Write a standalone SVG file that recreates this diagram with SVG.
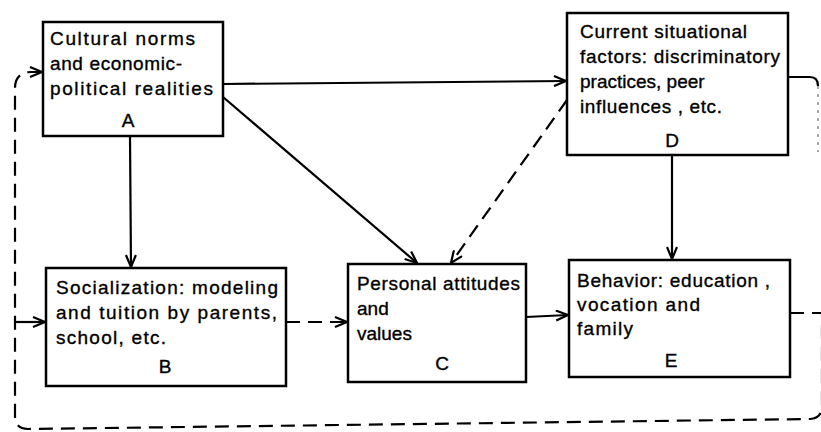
<svg xmlns="http://www.w3.org/2000/svg" width="821" height="432" viewBox="0 0 821 432">
<style>
.box{fill:#fff;stroke:#000;stroke-width:2.5}
.t{font-family:"Liberation Sans","DejaVu Sans",sans-serif;font-size:19px;fill:#000;stroke:#000;stroke-width:0.35}
.lbl{text-anchor:middle}
.c{fill:none;stroke:#000;stroke-width:2.2}
.d{stroke-dasharray:14 8}
.f{stroke-width:1;stroke-dasharray:3 5;stroke:#555}
</style>
<defs>
<marker id="ah" viewBox="0 0 14 12" refX="13" refY="6" markerWidth="14" markerHeight="12" markerUnits="userSpaceOnUse" orient="auto">
<path d="M1,1 L13,6 L1,11" fill="none" stroke="#000" stroke-width="2.2" stroke-dasharray="none"/>
</marker>
</defs>
<rect width="821" height="432" fill="#fff"/>
<g id="connectors">
<line class="c" x1="223" y1="84" x2="566" y2="81" marker-end="url(#ah)"/>
<line class="c" x1="223" y1="97" x2="417" y2="263" marker-end="url(#ah)"/>
<line class="c d" x1="567" y1="100" x2="451" y2="263" marker-end="url(#ah)"/>
<line class="c" x1="130" y1="136" x2="131" y2="267" marker-end="url(#ah)"/>
<line class="c" x1="672" y1="155" x2="672" y2="259" marker-end="url(#ah)"/>
<line class="c d" x1="286" y1="322" x2="347" y2="322" marker-end="url(#ah)"/>
<line class="c" x1="526" y1="317" x2="568" y2="315" marker-end="url(#ah)"/>
<path class="c d" d="M790,313 H822 V406 Q822,418 810,419 L28,429 Q15,429 15,416 V88 Q15,73 30,72 L42,72" marker-end="url(#ah)"/>
<line class="c" x1="15" y1="322" x2="45" y2="322" marker-end="url(#ah)"/>
<path class="c" d="M788,77 H810 Q818,77 818,86"/>
<path class="c f" d="M818,86 V152"/>
</g>
<g id="nodeA">
<rect class="box" x="43" y="22" width="180" height="114"/>
<text class="t" x="50" y="45" textLength="145" lengthAdjust="spacing">Cultural norms</text>
<text class="t" x="50" y="70" textLength="132" lengthAdjust="spacing">and economic-</text>
<text class="t" x="50" y="95" textLength="163" lengthAdjust="spacing">political realities</text>
<text class="t lbl" x="128" y="127">A</text>
</g>
<g id="nodeD">
<rect class="box" x="567" y="13" width="221" height="142"/>
<text class="t" x="580" y="38" textLength="167" lengthAdjust="spacing">Current situational</text>
<text class="t" x="580" y="63" textLength="200" lengthAdjust="spacing">factors: discriminatory</text>
<text class="t" x="580" y="88">practices, peer</text>
<text class="t" x="580" y="113" textLength="142" lengthAdjust="spacing">influences , etc.</text>
<text class="t lbl" x="672" y="147">D</text>
</g>
<g id="nodeB">
<rect class="box" x="46" y="268" width="240" height="118"/>
<text class="t" x="56" y="294" textLength="222" lengthAdjust="spacing">Socialization: modeling</text>
<text class="t" x="56" y="319" textLength="221" lengthAdjust="spacing">and tuition by parents,</text>
<text class="t" x="56" y="344" textLength="110" lengthAdjust="spacing">school, etc.</text>
<text class="t lbl" x="165" y="373">B</text>
</g>
<g id="nodeC">
<rect class="box" x="348" y="264" width="178" height="118"/>
<text class="t" x="357" y="290" textLength="163" lengthAdjust="spacing">Personal attitudes</text>
<text class="t" x="357" y="315">and</text>
<text class="t" x="357" y="340">values</text>
<text class="t lbl" x="442" y="370">C</text>
</g>
<g id="nodeE">
<rect class="box" x="569" y="260" width="221" height="117"/>
<text class="t" x="577" y="287" textLength="193" lengthAdjust="spacing">Behavior: education ,</text>
<text class="t" x="577" y="311" textLength="123" lengthAdjust="spacing">vocation and</text>
<text class="t" x="577" y="335" textLength="56" lengthAdjust="spacing">family</text>
<text class="t lbl" x="671" y="367">E</text>
</g>
</svg>
